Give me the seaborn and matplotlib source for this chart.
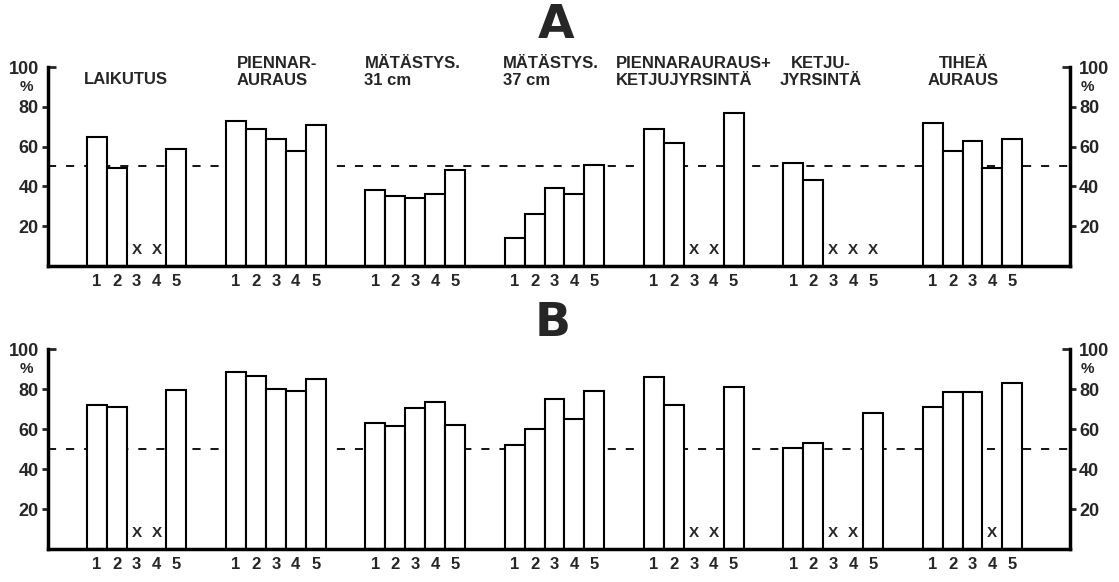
import matplotlib
matplotlib.use('Agg')
import matplotlib.pyplot as plt
import seaborn as sns
import pandas as pd
import numpy as np

# --- Data (None = marked with X, no bar) ---
group_labels = ['LAIKUTUS', 'PIENNAR-\nAURAUS', 'MÄTÄSTYS.\n31 cm', 'MÄTÄSTYS.\n37 cm',
                'PIENNARAURAUS+\nKETJUJYRSINTÄ', 'KETJU-\nJYRSINTÄ', 'TIHEÄ\nAURAUS']
bar_numbers = ['1', '2', '3', '4', '5']

values_a = [
    [65, 49, None, None, 59],
    [73, 69, 64, 58, 71],
    [38, 35, 34, 36, 48],
    [14, 26, 39, 36, 51],
    [69, 62, None, None, 77],
    [52, 43, None, None, None],
    [72, 58, 63, 49, 64],
]
values_b = [
    [72, 71, None, None, 79.5],
    [88.5, 86.5, 80, 79, 85],
    [63, 61.5, 70.5, 73.5, 62],
    [52, 60, 75, 65, 79],
    [86, 72, None, None, 81],
    [50.5, 53, None, None, 68],
    [71, 78.5, 78.5, None, 83],
]
reference_level = 50
y_ticks = [20, 40, 60, 80]

# label placement tweaks (offset from group start, in bar widths)
label_dx = [-0.15, 0.55, -0.05, -0.1, -1.4, 1.9, 2.05]
label_align = ['left', 'left', 'left', 'left', 'left', 'center', 'center']

sns.set_style('white')
plt.rcParams['font.family'] = ['Liberation Sans', 'DejaVu Sans']
plt.rcParams['font.weight'] = 'bold'


def panel_frame(values):
    rows = []
    for g, vals in enumerate(values):
        for i, v in enumerate(vals):
            rows.append({'pos': g * 7 + i, 'num': bar_numbers[i],
                         'value': np.nan if v is None else v})
    return pd.DataFrame(rows)


def draw_panel(ax, values, with_labels):
    df = panel_frame(values)
    sns.barplot(data=df.dropna(subset=['value']), x='pos', y='value', native_scale=True,
                width=1, color='white', saturation=1, edgecolor='black',
                linewidth=1.5, errorbar=None, ax=ax)

    # missing treatments marked with X
    for r in df[df['value'].isna()].itertuples():
        ax.text(r.pos, 8, 'X', ha='center', va='center', fontsize=11, fontweight='bold')

    ax.axhline(reference_level, color='black', lw=1.3, ls=(0, (4.5, 5.5)), zorder=0.5)

    ax.set_xlim(-2.45, 48.9)
    ax.set_ylim(0, 100)
    ax.set_xticks(df['pos'], labels=df['num'])
    ax.tick_params(axis='x', length=0, pad=6, labelsize=12)

    ax.set_yticks(y_ticks, labels=[str(t) for t in y_ticks])
    ax.set_yticks([100], labels=['100'], minor=True)
    ax.tick_params(axis='y', which='major', direction='out', length=4.5, width=2, pad=2,
                   labelsize=13, left=True, right=True, labelleft=True, labelright=True)
    ax.tick_params(axis='y', which='minor', direction='in', length=6, width=2, pad=6.5,
                   labelsize=13, left=True, right=True, labelleft=True, labelright=True)

    for side in ['left', 'right', 'bottom']:
        ax.spines[side].set_linewidth(2.5)
        ax.spines[side].set_color('black')
    ax.spines['top'].set_visible(False)
    ax.set_xlabel('')
    ax.set_ylabel('')

    # "%" under the 100 label on both sides
    ax.annotate('%', xy=(0, 90), xycoords=('axes fraction', 'data'), xytext=(-11, 0),
                textcoords='offset points', ha='right', va='center', fontsize=11)
    ax.annotate('%', xy=(1, 90), xycoords=('axes fraction', 'data'), xytext=(8, 0),
                textcoords='offset points', ha='left', va='center', fontsize=11)

    if with_labels:
        for g, lab in enumerate(group_labels):
            y = 97.5 if '\n' in lab else 93.5
            ax.text(g * 7 - 0.5 + label_dx[g], y, lab, ha=label_align[g],
                    multialignment=label_align[g], va='center', fontsize=12,
                    linespacing=1.2, clip_on=False)


fig = plt.figure(figsize=(11.19, 5.82), dpi=100)
ax_a = fig.add_axes([48 / 1119, 1 - 266 / 582, 1022 / 1119, 199 / 582])
ax_b = fig.add_axes([48 / 1119, 1 - 549 / 582, 1022 / 1119, 200 / 582])

draw_panel(ax_a, values_a, True)
draw_panel(ax_b, values_b, False)

fig.text(0.497, 0.957, 'A', fontsize=34, fontweight='bold', family='DejaVu Sans',
         ha='center', va='center')
fig.text(0.494, 0.445, 'B', fontsize=34, fontweight='bold', family='DejaVu Sans',
         ha='center', va='center')

fig.savefig('out.png', dpi=100)
plt.close(fig)
